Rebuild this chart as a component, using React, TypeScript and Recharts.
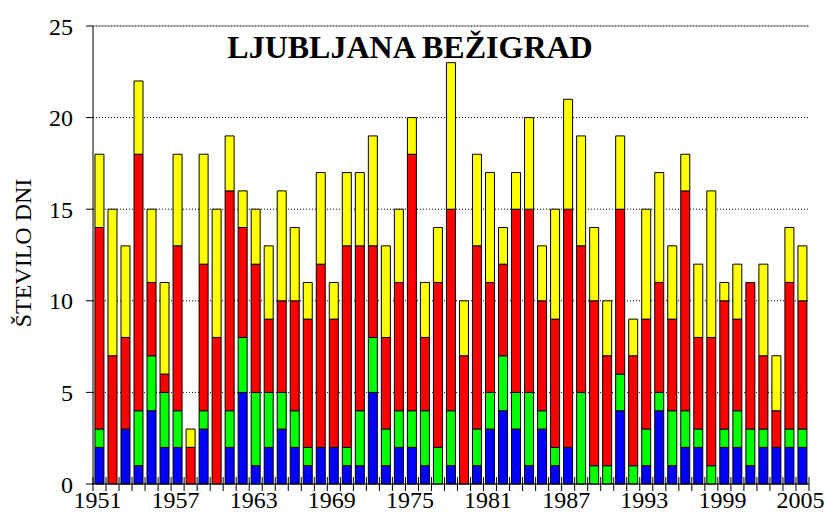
import { Bar, BarChart, CartesianGrid, ReferenceLine, XAxis, YAxis } from "recharts";

const years = Array.from({ length: 55 }, (_, i) => String(1951 + i));

const blue = [
  2, 0, 3, 1, 4, 2, 2, 0, 3, 0, 2, 5, 1, 2, 3, 2, 1, 2, 2, 1, 1, 5, 1, 2, 2, 1, 0, 1,
  0, 1, 3, 4, 3, 1, 3, 1, 2, 0, 0, 0, 4, 0, 1, 4, 1, 2, 2, 0, 2, 2, 1, 2, 2, 2, 2,
];
const green = [
  1, 0, 0, 3, 3, 3, 2, 0, 1, 0, 2, 3, 4, 3, 2, 2, 1, 0, 0, 1, 3, 3, 2, 2, 2, 3, 2, 3,
  0, 2, 2, 3, 2, 4, 1, 1, 0, 5, 1, 1, 2, 1, 2, 1, 3, 2, 1, 1, 1, 2, 2, 1, 0, 1, 1,
];
const red = [
  11, 7, 5, 14, 4, 1, 9, 2, 8, 8, 12, 6, 7, 4, 5, 6, 7, 10, 7, 11, 9, 5, 5, 7, 14, 4, 9, 11,
  7, 10, 6, 5, 10, 10, 6, 7, 13, 8, 9, 6, 9, 6, 6, 6, 5, 12, 5, 7, 7, 5, 8, 4, 2, 8, 7,
];
const yellow = [
  4, 8, 5, 4, 4, 5, 5, 1, 6, 7, 3, 2, 3, 4, 6, 4, 2, 5, 2, 4, 4, 6, 5, 4, 2, 3, 3, 8,
  3, 5, 6, 2, 2, 5, 3, 6, 6, 6, 4, 3, 4, 2, 6, 6, 4, 2, 4, 8, 1, 3, 0, 5, 3, 3, 3,
];
const yTicks = [0, 5, 10, 15, 20, 25];

const data = years.map((year, i) => ({
  year,
  blue: blue[i],
  green: green[i],
  red: red[i],
  yellow: yellow[i],
}));

const W = 825;
const H = 515;
const M = { top: 26, right: 16, bottom: 1, left: 0 };
const Y_W = 93;
const band = (W - M.left - M.right - Y_W) / years.length;
const font = "Liberation Serif, Tinos, Times New Roman, DejaVu Serif, serif";

// one tick line per category boundary, a label every 6 years
function YearTick(props: any) {
  const { x, y, payload } = props;
  const i = payload.index;
  const left = x - band / 2;
  return (
    <g>
      <line x1={left} x2={left} y1={y - 7} y2={y + 7} stroke="#000" />
      {i === years.length - 1 && (
        <line x1={x + band / 2} x2={x + band / 2} y1={y - 7} y2={y + 7} stroke="#000" />
      )}
      {i % 6 === 0 || i === years.length - 1 ? (
        <text x={x - 2} y={y + 24} textAnchor="middle" fontSize={24} fontFamily={font} fill="#000">
          {payload.value}
        </text>
      ) : null}
    </g>
  );
}

export default function App() {
  return (
    <div style={{ position: "absolute", left: 0, top: 0, width: W, height: H, background: "#fff" }}>
      <BarChart width={W} height={H} data={data} margin={M} barCategoryGap="15%">
        <CartesianGrid vertical={false} stroke="#000" strokeDasharray="1 2" />
        <XAxis
          dataKey="year"
          height={30}
          interval={0}
          tick={<YearTick />}
          tickSize={0}
          tickMargin={0}
          tickLine={false}
          axisLine={{ stroke: "#000" }}
        />
        <YAxis
          width={Y_W}
          domain={[0, 25]}
          ticks={yTicks}
          tickSize={7}
          tickMargin={13}
          tick={{ fontSize: 24, fontFamily: font, fill: "#000" }}
          tickLine={{ stroke: "#000" }}
          axisLine={{ stroke: "#000" }}
        />
        <YAxis
          yAxisId="frame"
          orientation="right"
          width={0}
          domain={[0, 25]}
          tick={false}
          tickLine={false}
          axisLine={{ stroke: "#000" }}
        />
        <ReferenceLine y={25} stroke="#808080" />
        <Bar dataKey="blue" stackId="a" fill="#0000ff" stroke="#000" isAnimationActive={false} />
        <Bar dataKey="green" stackId="a" fill="#00ff00" stroke="#000" isAnimationActive={false} />
        <Bar dataKey="red" stackId="a" fill="#ff0000" stroke="#000" isAnimationActive={false} />
        <Bar dataKey="yellow" stackId="a" fill="#ffff00" stroke="#000" isAnimationActive={false} />
      </BarChart>
      <div
        style={{
          position: "absolute",
          left: 0,
          width: 820,
          top: 29,
          textAlign: "center",
          fontFamily: font,
          fontWeight: "bold",
          fontSize: 32,
          lineHeight: "36px",
          color: "#000",
        }}
      >
        LJUBLJANA BEŽIGRAD
      </div>
      <div
        style={{
          position: "absolute",
          left: 23,
          top: 253,
          transform: "translate(-50%, -50%) rotate(-90deg)",
          whiteSpace: "nowrap",
          fontFamily: font,
          fontSize: 24,
          lineHeight: "26px",
          color: "#000",
        }}
      >
        ŠTEVILO DNI
      </div>
    </div>
  );
}
